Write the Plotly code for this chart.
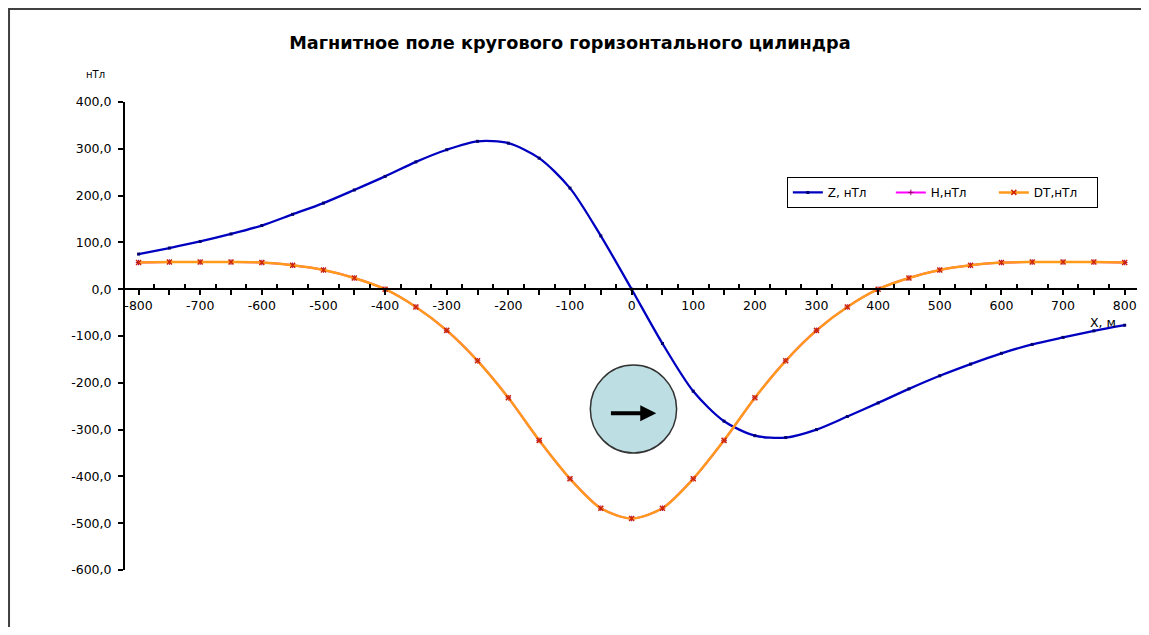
import plotly.graph_objects as go

# ---- data ----
x_m = [-800, -750, -700, -650, -600, -550, -500, -450, -400, -350, -300, -250, -200, -150, -100, -50,
       0, 50, 100, 150, 200, 250, 300, 350, 400, 450, 500, 550, 600, 650, 700, 750, 800]
z_nT = [75, 88, 102, 118, 136, 160, 184, 212, 241, 272, 298, 316, 312, 280, 216, 114,
        0, -116, -218, -282, -313, -317, -300, -272, -243, -213, -185, -160, -137, -118, -103, -89, -77]
h_nT = [57, 58, 58, 58, 57, 51, 41, 24, 0, -38, -88, -153, -232, -323, -405, -468,
        -490, -468, -405, -323, -232, -153, -88, -38, 0, 24, 41, 51, 57, 58, 58, 58, 57]
dt_nT = [57, 58, 58, 58, 57, 51, 41, 24, 0, -38, -88, -153, -232, -323, -405, -468,
         -490, -468, -405, -323, -232, -153, -88, -38, 0, 24, 41, 51, 57, 58, 58, 58, 57]

x_ticks = [-800, -700, -600, -500, -400, -300, -200, -100, 0, 100, 200, 300, 400, 500, 600, 700, 800]
x_ticktext = ["-800", "-700", "-600", "-500", "-400", "-300", "-200", "-100", "0",
              "100", "200", "300", "400", "500", "600", "700", "800"]
y_ticks = [400, 300, 200, 100, 0, -100, -200, -300, -400, -500, -600]
y_ticktext = ["400,0", "300,0", "200,0", "100,0", "0,0", "-100,0", "-200,0", "-300,0",
              "-400,0", "-500,0", "-600,0"]

title_text = "Магнитное поле кругового горизонтального цилиндра"
y_unit = "нТл"
x_unit = "X, м"

# cylinder sketch (data units)
cyl_cx, cyl_cy, cyl_rx, cyl_ry = 3, -256, 70, 94
arrow_x0, arrow_x1, arrow_y = -36, 40, -265

X_RANGE = [-822, 820]
Y_RANGE = [-600, 400]

FONT = "DejaVu Sans"

fig = go.Figure()
fig.add_trace(go.Scatter(x=x_m, y=z_nT, name="Z, нТл", mode="lines+markers",
                         line=dict(color="#0000C0", width=2.3, shape="spline", smoothing=0.8),
                         marker=dict(symbol="square", size=3, color="#000070")))
fig.add_trace(go.Scatter(x=x_m, y=h_nT, name="H,нТл", mode="lines+markers",
                         line=dict(color="#FF00FF", width=2, shape="spline", smoothing=0.8),
                         marker=dict(symbol="cross-thin", size=4, line=dict(color="#990066", width=1))))
fig.add_trace(go.Scatter(x=x_m, y=dt_nT, name="DT,нТл", mode="lines+markers",
                         line=dict(color="#FF9A1A", width=2.5, shape="spline", smoothing=0.8),
                         marker=dict(symbol="x-thin", size=5, line=dict(color="#CC2200", width=1.5),
                                     color="#CC2200")))

# cylinder
fig.add_shape(type="circle", xref="x", yref="y",
              x0=cyl_cx - cyl_rx, x1=cyl_cx + cyl_rx, y0=cyl_cy - cyl_ry, y1=cyl_cy + cyl_ry,
              fillcolor="#BDDFE3", line=dict(color="#333333", width=1.5), layer="above")
fig.add_annotation(x=arrow_x1, y=arrow_y, ax=arrow_x0, ay=arrow_y, xref="x", yref="y",
                   axref="x", ayref="y", showarrow=True, arrowhead=2, arrowsize=0.8,
                   arrowwidth=4, arrowcolor="#000000", text="")

# outer frame
fig.add_shape(type="rect", xref="paper", yref="paper", x0=-0.1146, x1=1.08, y0=-0.3, y1=1.1987,
              line=dict(color="#404040", width=2), fillcolor="rgba(0,0,0,0)")

fig.add_annotation(xref="paper", yref="paper", x=-0.0287, y=1.0577, text=y_unit, showarrow=False,
                   xanchor="center", yanchor="middle",
                   font=dict(family=FONT, size=10, color="#000000"))
fig.add_annotation(xref="paper", yref="paper", x=0.966, y=0.528, text=x_unit, showarrow=False,
                   xanchor="center", yanchor="middle",
                   font=dict(family=FONT, size=12.5, color="#000000"))

fig.update_layout(
    width=1133, height=619,
    margin=dict(l=117, r=4, t=94, b=57),
    paper_bgcolor="white", plot_bgcolor="white",
    font=dict(family=FONT, size=12, color="#000000"),
    title=dict(text="<b>" + title_text + "</b>", x=0.496, xref="container", y=0.9435,
               yref="container", xanchor="center", yanchor="middle",
               font=dict(family=FONT, size=17.7, color="#000000")),
    showlegend=True,
    legend=dict(orientation="h", x=0.654, y=0.84, xanchor="left", yanchor="top",
                bordercolor="#000000", borderwidth=1, bgcolor="white",
                font=dict(family=FONT, size=12), itemwidth=30, tracegroupgap=0,
                entrywidth=58, entrywidthmode="pixels"),
    xaxis=dict(range=X_RANGE, anchor="free", position=0.6, showgrid=False, zeroline=False,
               showline=True, linecolor="#000000", linewidth=2,
               tickmode="array", tickvals=x_ticks, ticktext=x_ticktext,
               ticks="outside", ticklen=5, tickwidth=2, tickcolor="#000000",
               tickfont=dict(family=FONT, size=12.5),
               minor=dict(dtick=50, tick0=0, ticks="outside", ticklen=5, tickwidth=2, tickcolor="#000000")),
    xaxis2=dict(range=X_RANGE, overlaying="x", anchor="free", position=0.6, showgrid=False,
                zeroline=False, showline=False, tick0=25, dtick=50, ticks="inside", ticklen=5,
                tickwidth=2, tickcolor="#000000", showticklabels=False),
    yaxis=dict(range=Y_RANGE, showgrid=False, zeroline=False, showline=True, linecolor="#000000",
               linewidth=2, tickmode="array", tickvals=y_ticks, ticktext=y_ticktext,
               ticks="outside", ticklen=5, tickwidth=2, tickcolor="#000000", ticklabelstandoff=4,
               tickfont=dict(family=FONT, size=12.5)),
)
fig.add_trace(go.Scatter(x=[X_RANGE[0]], y=[0], xaxis="x2", mode="markers",
                         marker=dict(opacity=0), showlegend=False, hoverinfo="skip"))

fig.write_html("out.html")
